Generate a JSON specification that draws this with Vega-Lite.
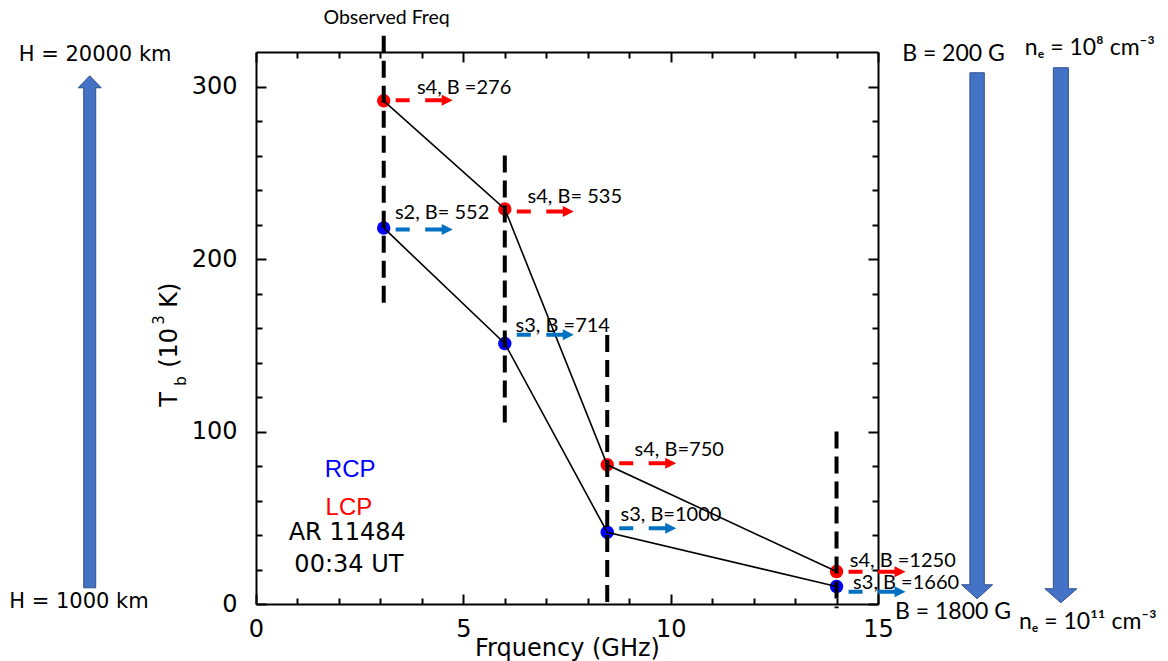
{
  "$schema": "https://vega.github.io/schema/vega-lite/v6.json",
  "width": 622,
  "height": 552,
  "autosize": {"type": "none"},
  "padding": {"left": 256, "top": 52, "right": 290, "bottom": 57},
  "background": "white",
  "config": {
    "view": {"stroke": null},
    "axis": {"grid": false, "domainColor": "black", "domainWidth": 2, "tickColor": "black", "tickWidth": 2, "labelColor": "black", "titleColor": "black"}
  },
  "datasets": {
    "pts": [
      {"x": 3.08, "y": 218.0, "pol": "RCP"},
      {"x": 6.0, "y": 151.0, "pol": "RCP"},
      {"x": 8.47, "y": 41.6, "pol": "RCP"},
      {"x": 14.0, "y": 10.1, "pol": "RCP"},
      {"x": 3.08, "y": 291.7, "pol": "LCP"},
      {"x": 6.0, "y": 229.0, "pol": "LCP"},
      {"x": 8.47, "y": 80.7, "pol": "LCP"},
      {"x": 14.0, "y": 18.8, "pol": "LCP"}
    ],
    "arrows": [
      {"x": 3.08, "y": 217.1, "pol": "RCP"},
      {"x": 6.0, "y": 156.1, "pol": "RCP"},
      {"x": 8.47, "y": 43.9, "pol": "RCP"},
      {"x": 14.0, "y": 7.1, "pol": "RCP"},
      {"x": 3.08, "y": 292.1, "pol": "LCP"},
      {"x": 6.0, "y": 227.6, "pol": "LCP"},
      {"x": 8.47, "y": 81.6, "pol": "LCP"},
      {"x": 14.0, "y": 18.7, "pol": "LCP"}
    ],
    "vlines": [
      {"x": 3.08, "y": 329.4, "y2": 173.5},
      {"x": 6.0, "y": 260.0, "y2": 103.3},
      {"x": 8.47, "y": 156.0, "y2": -2.5},
      {"x": 14.0, "y": 100.0, "y2": -2.5}
    ],
    "notes": [
      {"x": 3.88, "y": 299.1, "text": "s4, B =276"},
      {"x": 3.35, "y": 226.9, "text": "s2, B= 552"},
      {"x": 6.55, "y": 235.8, "text": "s4, B= 535"},
      {"x": 6.26, "y": 161.0, "text": "s3, B =714"},
      {"x": 9.13, "y": 89.4, "text": "s4, B=750"},
      {"x": 8.79, "y": 51.6, "text": "s3, B=1000"},
      {"x": 14.32, "y": 24.9, "text": "s4, B =1250"},
      {"x": 14.4, "y": 12.2, "text": "s3, B =1660"}
    ],
    "legend": [
      {"x": 2.27, "y": 77.8, "text": "RCP", "pol": "RCP"},
      {"x": 2.24, "y": 55.7, "text": "LCP", "pol": "LCP"}
    ],
    "info": [
      {"x": 2.2, "y": 41.2, "text": "AR 11484"},
      {"x": 2.24, "y": 22.6, "text": "00:34 UT"}
    ],
    "obs": [{"x": 3.15, "y": 340.0, "text": "Observed Freq"}],
    "htext": [
      {"x": -3.88, "y": 318.0, "text": "H = 20000 km"},
      {"x": -4.27, "y": 1.2, "text": "H = 1000 km"}
    ],
    "btext": [
      {"x": 16.82, "y": 318.6, "text": "B = 200 G"},
      {"x": 16.81, "y": -4.6, "text": "B = 1800 G"},
      {"x": 20.11, "y": 322.6, "text": "nₑ = 10⁸ cm⁻³"},
      {"x": 20.06, "y": -10.4, "text": "nₑ = 10¹¹ cm⁻³"}
    ],
    "bigarrows": [
      {"name": "H", "x": -4.01, "y": 157.8},
      {"name": "B", "x": 17.39, "y": 155.5},
      {"name": "ne", "x": 19.41, "y": 155.8}
    ],
    "ytitle_big": [
      {"x": -1.905, "y": 114.3, "text": "T"},
      {"x": -1.905, "y": 136.9, "text": "(10"},
      {"x": -1.905, "y": 171.8, "text": "K)"}
    ],
    "ytitle_small": [
      {"x": -1.688, "y": 126.5, "text": "b"},
      {"x": -2.219, "y": 161.9, "text": "3"}
    ]
  },
  "encoding": {
    "x": {"field": "x", "type": "quantitative", "scale": {"domain": [0, 15], "nice": false, "zero": false}, "axis": null},
    "y": {"field": "y", "type": "quantitative", "scale": {"domain": [0, 320], "nice": false, "zero": false}, "axis": null}
  },
  "layer": [
    {
      "data": {"name": "bigarrows"},
      "mark": {"type": "point", "filled": true, "fill": "#4472C4", "stroke": "#2F528F", "strokeWidth": 1, "opacity": 1, "size": 400},
      "encoding": {
        "shape": {"field": "name", "type": "nominal", "legend": null,
          "scale": {"domain": ["H", "B", "ne"], "range": [
            "M-0.6,25.6V-24.4H-1.15L0,-25.6L1.15,-24.4H0.6V25.6Z",
            "M-0.72,-26.3H0.72V24.9H1.55L0,26.3L-1.55,24.9H-0.72Z",
            "M-0.75,-26.75H0.75V25.35H1.6L0,26.75L-1.6,25.35H-0.75Z"
          ]}}
      }
    },
    {
      "data": {"name": "pts"},
      "mark": {"type": "point", "filled": true, "shape": "circle", "size": 180, "opacity": 1},
      "encoding": {
        "x": {"field": "x", "type": "quantitative", "scale": {"domain": [0, 15], "nice": false, "zero": false},
          "axis": {"orient": "bottom", "values": [0,1,2,3,4,5,6,7,8,9,10,11,12,13,14,15],
            "labelExpr": "datum.value % 5 === 0 ? datum.label : ''",
            "tickSize": {"condition": {"test": "datum.value % 5 === 0", "value": -10}, "value": -6},
            "labelPadding": 23, "labelFont": "DejaVu Sans", "labelFontSize": 24, "labelFlush": false, "labelOverlap": false,
            "title": "Frquency (GHz)", "titleFont": "DejaVu Sans", "titleFontSize": 24, "titleFontWeight": "normal", "titlePadding": -9}},
        "y": {"field": "y", "type": "quantitative", "scale": {"domain": [0, 320], "nice": false, "zero": false},
          "axis": {"orient": "left", "values": [0,20,40,60,80,100,120,140,160,180,200,220,240,260,280,300],
            "labelExpr": "datum.value % 100 === 0 ? datum.label : ''",
            "tickSize": {"condition": {"test": "datum.value % 100 === 0", "value": -10}, "value": -6},
            "labelPadding": 29, "labelFont": "DejaVu Sans", "labelFontSize": 24, "labelFlush": false, "labelOverlap": false,
            "title": null}},
        "color": {"field": "pol", "type": "nominal", "legend": null, "scale": {"domain": ["RCP", "LCP"], "range": ["#0000FF", "#FF0000"]}}
      }
    },
    {
      "data": {"name": "pts"},
      "mark": {"type": "line", "color": "black", "strokeWidth": 1.6},
      "encoding": {
        "x": {"field": "x", "type": "quantitative", "scale": {"domain": [0, 15], "nice": false, "zero": false},
          "axis": {"orient": "top", "values": [0,1,2,3,4,5,6,7,8,9,10,11,12,13,14,15], "labels": false,
            "tickSize": {"condition": {"test": "datum.value % 5 === 0", "value": -10}, "value": -6}, "title": null}},
        "y": {"field": "y", "type": "quantitative", "scale": {"domain": [0, 320], "nice": false, "zero": false},
          "axis": {"orient": "right", "values": [0,20,40,60,80,100,120,140,160,180,200,220,240,260,280,300], "labels": false,
            "tickSize": {"condition": {"test": "datum.value % 100 === 0", "value": -10}, "value": -6}, "title": null}},
        "detail": {"field": "pol"},
        "order": {"field": "x", "type": "quantitative"}
      }
    },
    {
      "data": {"name": "vlines"},
      "mark": {"type": "rule", "color": "black", "strokeWidth": 4, "strokeDash": [17, 8]},
      "encoding": {"y2": {"field": "y2"}}
    },
    {
      "data": {"name": "arrows"},
      "transform": [{"filter": "datum.pol === 'LCP'"}],
      "mark": {"type": "point", "filled": true, "color": "#FF0000", "opacity": 1, "size": 400, "strokeWidth": 0,
        "shape": "M1.2,-0.2H2.6V0.2H1.2Z M4.15,-0.2H5.8V-0.55L6.9,0L5.8,0.55V0.2H4.15Z"}
    },
    {
      "data": {"name": "arrows"},
      "transform": [{"filter": "datum.pol === 'RCP'"}],
      "mark": {"type": "point", "filled": true, "color": "#0070C0", "opacity": 1, "size": 400, "strokeWidth": 0,
        "shape": "M1.2,-0.2H2.6V0.2H1.2Z M4.15,-0.2H5.8V-0.55L6.9,0L5.8,0.55V0.2H4.15Z"}
    },
    {
      "data": {"name": "notes"},
      "mark": {"type": "text", "font": "Lato", "fontSize": 20, "align": "left", "baseline": "middle", "color": "black"},
      "encoding": {"text": {"field": "text"}}
    },
    {
      "data": {"name": "legend"},
      "mark": {"type": "text", "font": "Liberation Sans", "fontSize": 24, "align": "center", "baseline": "middle"},
      "encoding": {
        "text": {"field": "text"},
        "color": {"field": "pol", "type": "nominal", "legend": null, "scale": {"domain": ["RCP", "LCP"], "range": ["#0000FF", "#FF0000"]}}
      }
    },
    {
      "data": {"name": "info"},
      "mark": {"type": "text", "font": "DejaVu Sans", "fontSize": 24, "align": "center", "baseline": "middle", "color": "black"},
      "encoding": {"text": {"field": "text"}}
    },
    {
      "data": {"name": "obs"},
      "mark": {"type": "text", "font": "Lato", "fontSize": 19.5, "align": "center", "baseline": "middle", "color": "black"},
      "encoding": {"text": {"field": "text"}}
    },
    {
      "data": {"name": "htext"},
      "mark": {"type": "text", "font": "DejaVu Sans", "fontSize": 21, "align": "center", "baseline": "middle", "color": "black"},
      "encoding": {"text": {"field": "text"}}
    },
    {
      "data": {"name": "btext"},
      "mark": {"type": "text", "font": "Lato", "fontSize": 23, "align": "center", "baseline": "middle", "color": "black"},
      "encoding": {"text": {"field": "text"}}
    },
    {
      "data": {"name": "ytitle_big"},
      "mark": {"type": "text", "font": "DejaVu Sans", "fontSize": 24, "angle": 270, "align": "left", "baseline": "alphabetic", "color": "black"},
      "encoding": {"text": {"field": "text"}}
    },
    {
      "data": {"name": "ytitle_small"},
      "mark": {"type": "text", "font": "DejaVu Sans", "fontSize": 15, "angle": 270, "align": "left", "baseline": "alphabetic", "color": "black"},
      "encoding": {"text": {"field": "text"}}
    }
  ],
  "resolve": {"axis": {"x": "independent", "y": "independent"}}
}
